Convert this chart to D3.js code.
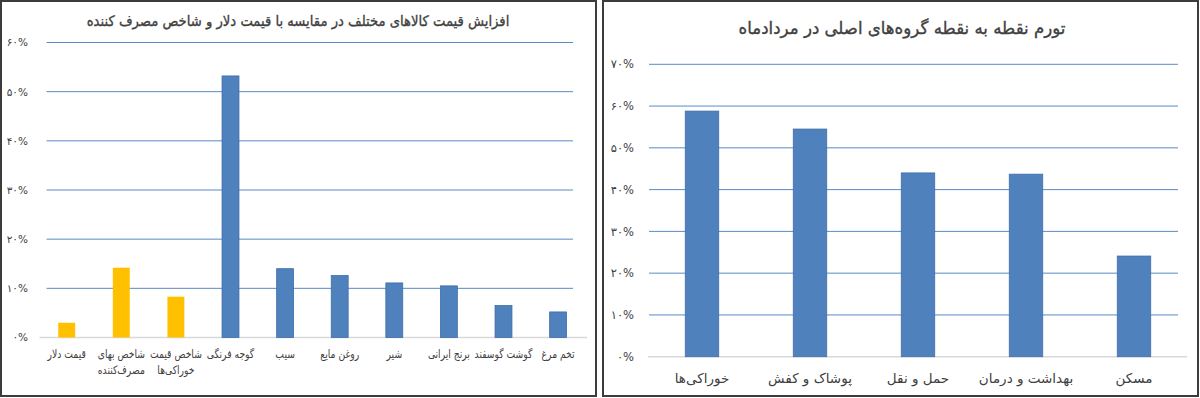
<!DOCTYPE html>
<html>
<head>
<meta charset="utf-8">
<script src="https://cdn.jsdelivr.net/npm/d3@7"></script>
<style>
  body { margin: 0; background: #fff; }
  svg { display: block; font-family: "DejaVu Sans", sans-serif; }
</style>
</head>
<body>
<svg id="chart" width="1200" height="398"></svg>
<script>
// left chart: price growth of goods vs dollar and CPI
const leftTitle = "افزایش قیمت کالاهای مختلف در مقایسه با قیمت دلار و شاخص مصرف کننده";
const leftCats = ["قیمت دلار", "شاخص بهای\nمصرف‌کننده", "شاخص قیمت\nخوراکی‌ها", "گوجه فرنگی", "سیب", "روغن مایع", "شیر", "برنج ایرانی", "گوشت گوسفند", "تخم مرغ"];
const leftValues = [3.0, 14.2, 8.3, 53.2, 14.0, 12.6, 11.1, 10.5, 6.5, 5.2];
const leftGroups = ["index", "index", "index", "item", "item", "item", "item", "item", "item", "item"];
const leftTicks = [0, 10, 20, 30, 40, 50, 60];

// right chart: point inflation of main groups
const rightTitle = "تورم نقطه به نقطه گروه‌های اصلی در مردادماه";
const rightCats = ["خوراکی‌ها", "پوشاک و کفش", "حمل و نقل", "بهداشت و درمان", "مسکن"];
const rightValues = [58.8, 54.5, 44.0, 43.7, 24.1];
const rightTicks = [0, 10, 20, 30, 40, 50, 60, 70];

const blue = "#4f81bd";
const yellow = "#ffc000";
const textColor = "#404040";

const faDigits = "۰۱۲۳۴۵۶۷۸۹";
const faPct = d => String(d).replace(/\d/g, c => faDigits[c]) + "%";

const svg = d3.select("#chart");

// panel frames
svg.append("rect").attr("x", 1).attr("y", 1).attr("width", 595).attr("height", 395)
  .attr("fill", "none").attr("stroke", "#3c3c3c").attr("stroke-width", 2);
svg.append("rect").attr("x", 603).attr("y", 1).attr("width", 595).attr("height", 395)
  .attr("fill", "none").attr("stroke", "#3c3c3c").attr("stroke-width", 2);

function drawChart(opt) {
  const g = svg.append("g");

  const x = d3.scaleBand()
    .domain(opt.cats)
    .range(opt.xRange)
    .paddingInner(opt.pad)
    .paddingOuter(opt.pad / 2);

  const y = d3.scaleLinear()
    .domain([0, d3.max(opt.ticks)])
    .range(opt.yRange);

  // gridlines
  g.selectAll("line.grid")
    .data(opt.ticks.filter(t => t > 0))
    .join("line")
    .attr("class", "grid")
    .attr("x1", opt.gridX[0]).attr("x2", opt.gridX[1])
    .attr("y1", d => y(d)).attr("y2", d => y(d))
    .attr("stroke", "#5a8ac6")
    .attr("stroke-width", 1);

  // baseline
  g.append("line")
    .attr("x1", opt.xRange[0]).attr("x2", opt.axisEnd)
    .attr("y1", y(0)).attr("y2", y(0))
    .attr("stroke", "#d9d9d9")
    .attr("stroke-width", 1.5);

  // y axis labels
  const yAxis = g.append("g")
    .attr("transform", `translate(${opt.labelX},0)`)
    .call(d3.axisLeft(y).tickValues(opt.ticks).tickSize(0).tickPadding(0).tickFormat(faPct));
  yAxis.select(".domain").remove();
  yAxis.selectAll("text")
    .attr("fill", textColor)
    .style("font-family", "DejaVu Sans, sans-serif")
    .style("font-size", opt.yFont + "px");

  // bars
  g.selectAll("rect.bar")
    .data(opt.values)
    .join("rect")
    .attr("class", "bar")
    .attr("x", (d, i) => x(opt.cats[i]))
    .attr("width", x.bandwidth())
    .attr("y", d => y(d))
    .attr("height", d => y(0) - y(d))
    .attr("fill", (d, i) => opt.colorOf(i))
    .attr("stroke", (d, i) => opt.colorOf(i) === blue ? "#3f6ea8" : "none")
    .attr("stroke-width", 0.8);

  // category labels (squeezed a little horizontally, like the narrow source font)
  const lbl = g.selectAll("text.cat")
    .data(opt.cats)
    .join("text")
    .attr("class", "cat")
    .attr("transform", d => `translate(${x(d) + x.bandwidth() / 2},${opt.catY}) scale(${opt.catSquash},1)`)
    .attr("text-anchor", "middle")
    .attr("direction", "rtl")
    .attr("fill", textColor)
    .style("font-size", opt.catFont + "px");
  lbl.each(function(d) {
    d3.select(this).selectAll("tspan")
      .data(d.split("\n"))
      .join("tspan")
      .attr("x", 0)
      .attr("dy", (p, j) => j === 0 ? 0 : opt.catFont * 1.35)
      .text(p => p);
  });

  // title, fitted to the source width
  const title = g.append("text")
    .attr("text-anchor", "middle")
    .attr("direction", "rtl")
    .attr("fill", textColor)
    .attr("stroke", textColor)
    .attr("stroke-width", 0.35)
    .style("font-size", opt.titleFont + "px")
    .text(opt.title);
  const w = title.node().getComputedTextLength();
  title.attr("transform", `translate(${opt.titleX},${opt.titleY}) scale(${opt.titleWidth / w},1)`);
}

drawChart({
  title: leftTitle,
  cats: leftCats,
  values: leftValues,
  ticks: leftTicks,
  colorOf: i => leftGroups[i] === "index" ? yellow : blue,
  xRange: [39.4, 585.4],
  axisEnd: 587,
  gridX: [46.5, 573],
  pad: 0.69,
  yRange: [337.5, 42.5],
  labelX: 28,
  yFont: 10.5,
  catY: 358,
  catFont: 11.5,
  catSquash: 0.8,
  titleX: 298,
  titleY: 26,
  titleFont: 14.5,
  titleWidth: 423
});

drawChart({
  title: rightTitle,
  cats: rightCats,
  values: rightValues,
  ticks: rightTicks,
  colorOf: () => blue,
  xRange: [648, 1188],
  axisEnd: 1187,
  gridX: [649, 1178],
  pad: 0.69,
  yRange: [356.7, 64.3],
  labelX: 634,
  yFont: 11.5,
  catY: 383,
  catFont: 13.5,
  catSquash: 1,
  titleX: 902,
  titleY: 34,
  titleFont: 17.5,
  titleWidth: 327
});
</script>
</body>
</html>
